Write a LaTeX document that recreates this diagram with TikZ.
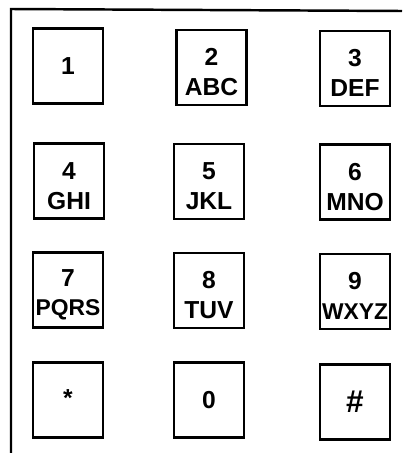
\documentclass[tikz,border=0pt]{standalone}
\usepackage{fontspec}
\setmainfont{Liberation Sans}
\usepackage{tikz}
\usetikzlibrary{positioning}

\newcommand{\keylab}[2]{\rule{0pt}{15pt}#1\\#2}

\begin{document}
\begin{tikzpicture}
        \useasboundingbox (0,0) rectangle (8.04,-9.06);

        % outer frame
        \coordinate (tl) at (0.22,-0.18);
        \coordinate (tr) at (8.04,-0.22);
        \coordinate (bl) at (0.22,-9.06);
        \draw [line width=1.4pt] (tr) -- (tl) -- (bl);

        \begin{scope}[every node/.style={rectangle,draw,line width=1.3pt,
                minimum width=1.4cm,minimum height=1.5cm,inner sep=0pt,
                align=center,font=\fontsize{14}{17}\selectfont\bfseries}]
            \node (1) at (1.36,-1.32) {1};
            \node (2) at (4.23,-1.35) {\keylab{2}{ABC}};
            \node (3) at (7.10,-1.37) {\keylab{3}{DEF}};
            \node (4) at (1.38,-3.62) {\keylab{4}{GHI}};
            \node (5) at (4.18,-3.63) {\keylab{5}{JKL}};
            \node (6) at (7.10,-3.64) {\keylab{6}{MNO}};
            \node (7) at (1.36,-5.80) {\keylab{7}{\fontsize{13}{17}\selectfont PQRS}};
            \node (8) at (4.18,-5.81) {\keylab{8}{TUV}};
            \node (9) at (7.10,-5.83) {\keylab{9}{\fontsize{13}{17}\selectfont WXYZ}};
            \node (star) at (1.36,-8.00) {\raisebox{2pt}{*}};
            \node (0) at (4.18,-8.00) {0};
            \node (hash) at (7.10,-8.04) {\raisebox{-5pt}{\fontsize{18}{20}\selectfont\#}};
        \end{scope}
    \end{tikzpicture}
\end{document}
